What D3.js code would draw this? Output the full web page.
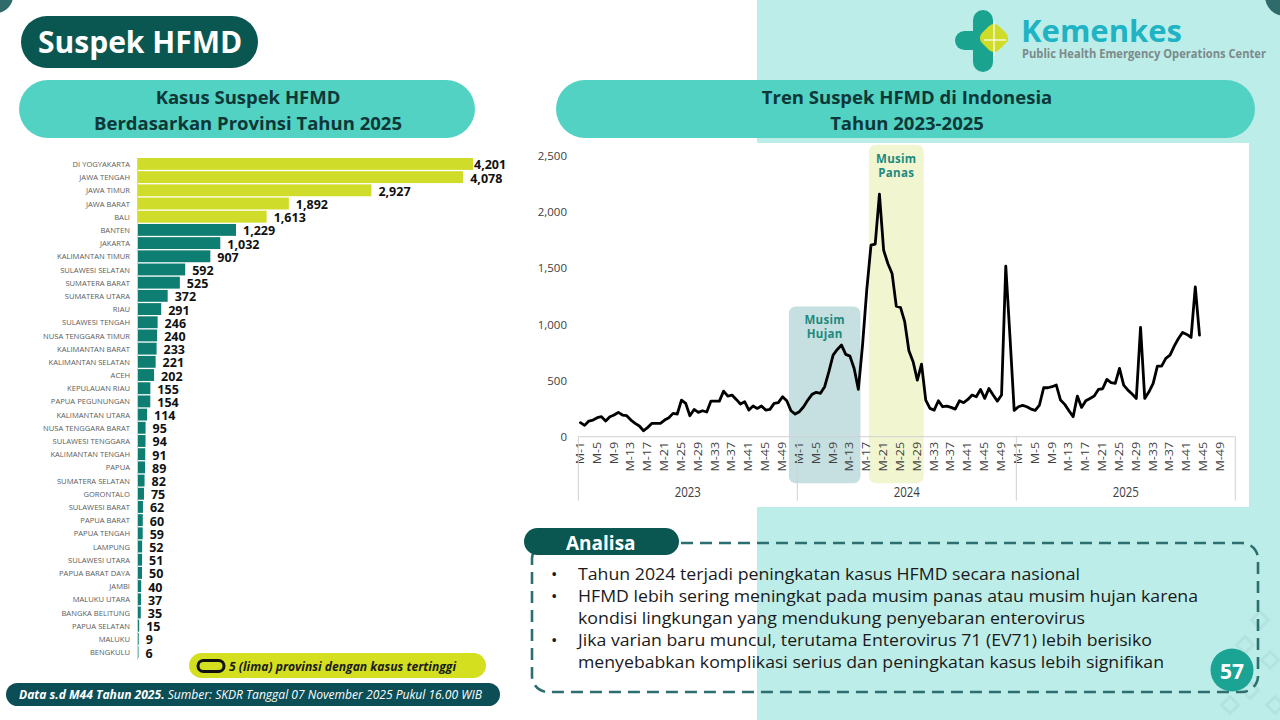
<!DOCTYPE html>
<html><head><meta charset="utf-8">
<script src="https://cdn.jsdelivr.net/npm/d3@7"></script>
<style>
body{margin:0;background:#fff;}
svg{display:block;font-family:"Open Sans","Noto Sans",sans-serif;}
</style></head><body>
<svg id="c" width="1280" height="720"></svg>
<script>
// ---------------- DATA ----------------
const provinces = ["DI YOGYAKARTA","JAWA TENGAH","JAWA TIMUR","JAWA BARAT","BALI","BANTEN","JAKARTA","KALIMANTAN TIMUR","SULAWESI SELATAN","SUMATERA BARAT","SUMATERA UTARA","RIAU","SULAWESI TENGAH","NUSA TENGGARA TIMUR","KALIMANTAN BARAT","KALIMANTAN SELATAN","ACEH","KEPULAUAN RIAU","PAPUA PEGUNUNGAN","KALIMANTAN UTARA","NUSA TENGGARA BARAT","SULAWESI TENGGARA","KALIMANTAN TENGAH","PAPUA","SUMATERA SELATAN","GORONTALO","SULAWESI BARAT","PAPUA BARAT","PAPUA TENGAH","LAMPUNG","SULAWESI UTARA","PAPUA BARAT DAYA","JAMBI","MALUKU UTARA","BANGKA BELITUNG","PAPUA SELATAN","MALUKU","BENGKULU"];
const provinceCases = [4201,4078,2927,1892,1613,1229,1032,907,592,525,372,291,246,240,233,221,202,155,154,114,95,94,91,89,82,75,62,60,59,52,51,50,40,37,35,15,9,6];
const topCount = 5;

const years = ["2023","2024","2025"];
const weeksPerYear = 52;
const cases2023 = [125,101,139,148,169,178,139,178,193,217,193,187,148,119,95,53,83,119,119,119,148,169,208,202,326,297,187,243,217,231,220,317,317,317,406,362,371,332,291,312,237,273,252,273,237,243,297,303,356,320,231,202];
const cases2024 = [223,267,326,377,395,386,445,579,727,777,816,733,718,608,421,820,1310,1706,1715,2160,1661,1543,1454,1163,1151,1024,765,668,504,647,326,252,237,320,267,273,261,246,320,303,332,371,356,421,341,430,371,317,371,1519,890,234];
const cases2025 = [267,279,267,246,234,282,436,436,445,460,326,288,231,178,362,261,320,341,362,421,427,510,481,475,608,460,415,380,341,973,341,400,475,629,629,697,727,807,875,929,911,884,1335,905];
const yTicks = [0,500,1000,1500,2000,2500];
const labelEvery = 4;

const seasons = [
  {name:["Musim","Hujan"], from:"2023|M-51", to:"2024|M-15", top:1160, fill:"#c6dfe0"},
  {name:["Musim","Panas"], from:"2024|M-18", to:"2024|M-30", top:2600, fill:"#f1f6d0"}
];

const bullets = [
  ["Tahun 2024 terjadi peningkatan kasus HFMD secara nasional"],
  ["HFMD lebih sering meningkat pada musim panas atau musim hujan karena","kondisi lingkungan yang mendukung penyebaran enterovirus"],
  ["Jika varian baru muncul, terutama Enterovirus 71 (EV71) lebih berisiko","menyebabkan komplikasi serius dan peningkatan kasus lebih signifikan"]
];
const bulletWidths = [502,620,507,574,586];

// ---------------- DRAW ----------------
const svg = d3.select("#c");
const C = {dark:"#0a5752", teal:"#0e7d72", lime:"#cfdc29", pill:"#52d2c3", bg:"#bdede8"};

// backgrounds
svg.append("rect").attr("x",0).attr("y",0).attr("width",1280).attr("height",720).attr("fill","#fff");
svg.append("rect").attr("x",757).attr("y",0).attr("width",523).attr("height",720).attr("fill",C.bg);
svg.append("circle").attr("cx",-4).attr("cy",-4).attr("r",17).attr("fill","#2f6b6b");
svg.append("circle").attr("cx",1285).attr("cy",-4).attr("r",20).attr("fill","#2f6b6b");

// faint pattern bottom-right
const pat = svg.append("g").attr("opacity",0.25);
[[1260,620],[1245,645],[1270,660],[1250,690],[1275,705],[1230,705]].forEach(p=>{
  pat.append("rect").attr("x",p[0]-6).attr("y",p[1]-6).attr("width",12).attr("height",12)
    .attr("transform",`rotate(45 ${p[0]} ${p[1]})`).attr("fill","none").attr("stroke","#9cc9c5").attr("stroke-width",3);
});

// title
svg.append("rect").attr("x",21).attr("y",16).attr("width",237).attr("height",52).attr("rx",26).attr("fill",C.dark);
svg.append("text").attr("x",38).attr("y",53).attr("fill","#fff").attr("font-size",30).attr("font-weight",700).text("Suspek HFMD");

// logo
const lg = svg.append("g");
lg.append("rect").attr("x",973).attr("y",10).attr("width",20).attr("height",62).attr("rx",10).attr("fill","#1aa38f");
lg.append("rect").attr("x",955).attr("y",31).attr("width",32).attr("height",19).attr("rx",9.5).attr("fill","#1aa38f");
lg.append("rect").attr("x",982).attr("y",26).attr("width",24).attr("height",24).attr("rx",7)
  .attr("transform","rotate(45 994 38)").attr("fill","#cfdc29");
lg.append("line").attr("x1",984).attr("y1",40).attr("x2",1006).attr("y2",40).attr("stroke","#fff").attr("stroke-width",1.2);
lg.append("line").attr("x1",994).attr("y1",22).attr("x2",994).attr("y2",56).attr("stroke","#fff").attr("stroke-width",1.2);
svg.append("text").attr("x",1021).attr("y",42).attr("fill","#20b3c4").attr("font-size",31).attr("font-weight",700).text("Kemenkes");
svg.append("text").attr("x",1022).attr("y",58).attr("fill","#7c8a8b").attr("font-size",11.5).attr("font-weight",700)
  .attr("textLength",244).attr("lengthAdjust","spacingAndGlyphs").text("Public Health Emergency Operations Center");

// section pills
function pill(x,y,w,h,lines,cx){
  svg.append("rect").attr("x",x).attr("y",y).attr("width",w).attr("height",h).attr("rx",h/2).attr("fill",C.pill);
  lines.forEach((t,i)=>svg.append("text").attr("x",cx).attr("y",y+24+i*26).attr("text-anchor","middle")
    .attr("fill","#0e3838").attr("font-size",18.5).attr("font-weight",700).text(t));
}
pill(19,80,456,58,["Kasus Suspek HFMD","Berdasarkan Provinsi Tahun 2025"],248);
pill(556,80,699,58,["Tren Suspek HFMD di Indonesia","Tahun 2023-2025"],907);

// ---------- bar chart ----------
const yB = d3.scaleBand().domain(provinces).range([158,658]).paddingInner(0.1);
const xBar = d3.scaleLinear().domain([0,d3.max(provinceCases)]).range([138,473]);
const barData = provinces.map((p,i)=>({p, v:provinceCases[i], top:i<topCount}));
const bg = svg.append("g");
bg.selectAll("rect.bar").data(barData).join("rect").attr("class","bar")
  .attr("x",xBar(0)).attr("y",d=>yB(d.p)).attr("width",d=>xBar(d.v)-xBar(0)).attr("height",yB.bandwidth())
  .attr("fill",d=>d.top?C.lime:C.teal);
bg.append("line").attr("x1",xBar(0)-0.5).attr("x2",xBar(0)-0.5).attr("y1",158).attr("y2",660).attr("stroke","#d0d0d0");
bg.selectAll("text.pl").data(barData).join("text").attr("class","pl")
  .attr("transform",d=>`translate(130,${yB(d.p)+yB.bandwidth()/2}) scale(0.95,1)`)
  .attr("text-anchor","end").attr("dominant-baseline","central")
  .attr("font-size",8).attr("fill","#5b5b5b").text(d=>d.p);
const fmt = d3.format(",");
bg.selectAll("text.vl").data(barData).join("text").attr("class","vl")
  .attr("x",d=>Math.min(xBar(d.v)+7,474)).attr("y",d=>yB(d.p)+yB.bandwidth()/2+1)
  .attr("dominant-baseline","central").attr("font-size",12.5).attr("font-weight",700).attr("fill","#111")
  .text(d=>fmt(d.v));

// legend
svg.append("rect").attr("x",189).attr("y",653).attr("width",297).attr("height",25).attr("rx",12.5).attr("fill","#d3df1f");
svg.append("rect").attr("x",198).attr("y",660.5).attr("width",26).attr("height",11).attr("rx",5.5).attr("fill","none").attr("stroke","#111").attr("stroke-width",3);
svg.append("text").attr("x",229).attr("y",671).attr("font-size",12).attr("font-weight",700).attr("font-style","italic")
  .attr("fill","#1a1a1a").attr("textLength",227).attr("lengthAdjust","spacingAndGlyphs").text("5 (lima) provinsi dengan kasus tertinggi");

// footer
svg.append("rect").attr("x",6).attr("y",683).attr("width",494).attr("height",23).attr("rx",11.5).attr("fill","#0b4e56");
const ft = svg.append("text").attr("x",19).attr("y",699).attr("font-size",12.5).attr("font-style","italic").attr("fill","#fff")
  .attr("textLength",463).attr("lengthAdjust","spacingAndGlyphs");
ft.append("tspan").attr("font-weight",700).text("Data s.d M44 Tahun 2025.");
ft.append("tspan").text(" Sumber: SKDR Tanggal 07 November 2025 Pukul 16.00 WIB");

// ---------- line chart ----------
svg.append("rect").attr("x",530).attr("y",143).attr("width",719).attr("height",364).attr("fill","#fff");
const keys = [];
years.forEach(yr=>{ for(let w=1;w<=weeksPerYear;w++) keys.push(yr+"|M-"+w); });
const xL = d3.scaleBand().domain(keys).range([578.3,1235.3]);
const yL = d3.scaleLinear().domain([0,2500]).range([436.7,156]);
const bw = xL.bandwidth();
const series = [];
[cases2023,cases2024,cases2025].forEach((arr,yi)=>arr.forEach((v,i)=>series.push({k:years[yi]+"|M-"+(i+1), v})));

const lc = svg.append("g");
// seasons
seasons.forEach(s=>{
  const x0 = xL(s.from), x1 = xL(s.to)+bw;
  lc.append("rect").attr("x",x0).attr("y",yL(s.top)).attr("width",x1-x0).attr("height",yL(0)+46.5-yL(s.top))
    .attr("rx",7).attr("fill",s.fill);
  s.name.forEach((t,i)=>lc.append("text").attr("x",(x0+x1)/2).attr("y",yL(s.top)+18+i*14)
    .attr("text-anchor","middle").attr("font-size",11.5).attr("font-weight",700).attr("fill","#1c8a7f")
    .attr("letter-spacing",0.3).text(t));
});

// y axis
const yAx = lc.append("g").attr("transform","translate(567,0)")
  .call(d3.axisLeft(yL).tickValues(yTicks).tickSize(0).tickPadding(0).tickFormat(d3.format(",")));
yAx.select(".domain").remove();
yAx.selectAll("text").attr("font-size",11.5).attr("fill","#404040").attr("font-family","'Open Sans','Noto Sans',sans-serif");

// x axis
lc.append("line").attr("x1",578.3).attr("x2",1235.3).attr("y1",yL(0)).attr("y2",yL(0)).attr("stroke","#d0d0d0");
const tickKeys = keys.filter(k=>((+k.split("-")[1])-1)%labelEvery===0);
const xAx = lc.append("g").attr("transform",`translate(0,${yL(0)})`)
  .call(d3.axisBottom(xL).tickValues(tickKeys).tickSize(0).tickFormat(k=>k.split("|")[1]));
xAx.select(".domain").remove();
xAx.selectAll(".tick text")
  .attr("transform","translate(0,5) rotate(-90) scale(1.15,0.9)")
  .attr("text-anchor","end").attr("dy","0.35em").attr("y",0).attr("x",0)
  .attr("font-size",11).attr("fill","#404040").attr("font-family","'Open Sans','Noto Sans',sans-serif");
// year separators & labels
years.forEach((yr,i)=>{
  const x0 = xL(yr+"|M-1"), x1 = xL(yr+"|M-"+weeksPerYear)+bw;
  lc.append("line").attr("x1",x0).attr("x2",x0).attr("y1",yL(0)).attr("y2",yL(0)+64).attr("stroke","#d0d0d0");
  if(i===years.length-1) lc.append("line").attr("x1",x1).attr("x2",x1).attr("y1",yL(0)).attr("y2",yL(0)+64).attr("stroke","#d0d0d0");
  lc.append("text").attr("transform",`translate(${(x0+x1)/2},${yL(0)+55}) scale(1,1.25)`)
    .attr("text-anchor","middle").attr("dominant-baseline","central")
    .attr("font-size",11.5).attr("fill","#404040").text(yr);
});

// line
lc.append("path").datum(series)
  .attr("d",d3.line().x(d=>xL(d.k)+bw/2).y(d=>yL(d.v)))
  .attr("fill","none").attr("stroke","#000").attr("stroke-width",2.8).attr("stroke-linejoin","round").attr("stroke-linecap","round");

// ---------- Analisa ----------
svg.append("rect").attr("x",532).attr("y",543).attr("width",726).attr("height",149).attr("rx",16)
  .attr("fill","none").attr("stroke","#2d6e70").attr("stroke-width",2.6).attr("stroke-dasharray","12,7");
svg.append("rect").attr("x",524).attr("y",528).attr("width",155).attr("height",27).attr("rx",13.5).attr("fill",C.dark);
svg.append("text").attr("x",566).attr("y",550).attr("fill","#fff").attr("font-size",19).attr("font-weight",700).text("Analisa");
let li = 0;
bullets.forEach(b=>{
  b.forEach((line,j)=>{
    const y = 579.5 + li*22.2;
    if(j===0) svg.append("text").attr("x",551).attr("y",y).attr("font-size",17).attr("fill","#1a1a1a").text("•");
    svg.append("text").attr("x",578).attr("y",y).attr("font-size",17).attr("fill","#1a1a1a")
      .attr("textLength",bulletWidths[li]).attr("lengthAdjust","spacingAndGlyphs").text(line);
    li++;
  });
});
svg.append("circle").attr("cx",1232).attr("cy",670).attr("r",21.5).attr("fill","#1ba493");
svg.append("text").attr("x",1232).attr("y",671).attr("text-anchor","middle").attr("dominant-baseline","central")
  .attr("fill","#fff").attr("font-size",21).attr("font-weight",700).text("57");
</script>
</body></html>
